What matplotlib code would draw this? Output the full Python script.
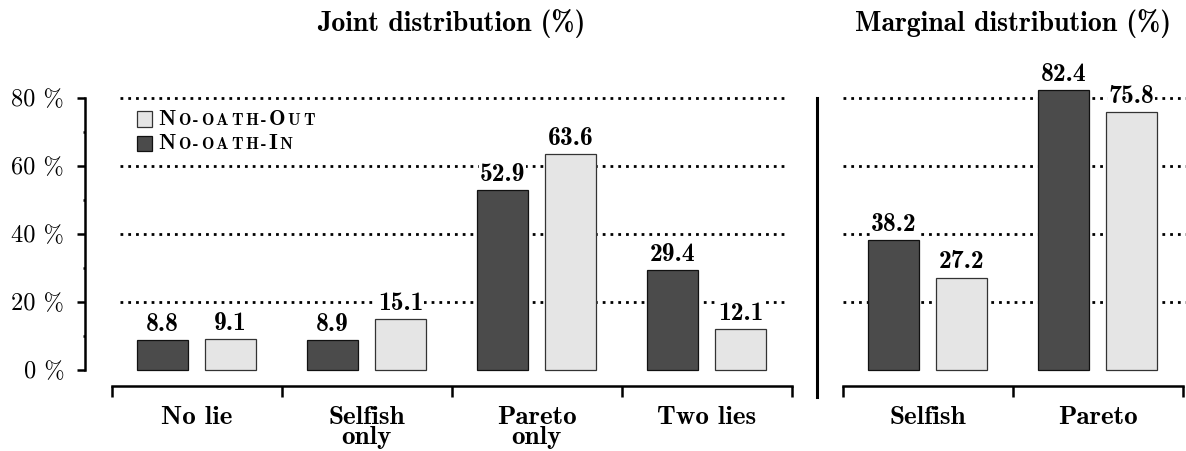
import numpy as np
import matplotlib
matplotlib.use('Agg')
import matplotlib.pyplot as plt
from matplotlib.offsetbox import AnchoredOffsetbox, HPacker, VPacker, TextArea, DrawingArea
from matplotlib.patches import Rectangle

# data
joint_cats = ['No lie', 'Selfish\nonly', 'Pareto\nonly', 'Two lies']
joint_in = [8.8, 8.9, 52.9, 29.4]
joint_out = [9.1, 15.1, 63.6, 12.1]
marg_cats = ['Selfish', 'Pareto']
marg_in = [38.2, 82.4]
marg_out = [27.2, 75.8]
yticks = [0, 20, 40, 60, 80]
ytick_labels = ['0 %', '20 %', '40 %', '60 %', '80 %']

DARK = '#4b4b4b'
LIGHT = '#e5e5e5'
BOLD = 'cmb10'
ROMAN = 'cmr10'
LW = 1.8

fig = plt.figure(figsize=(11.86, 4.51), dpi=100)


def px_axes(left, right, top=70.8, bottom=386):
    return fig.add_axes([left / 1186, (451 - bottom) / 451,
                         (right - left) / 1186, (bottom - top) / 451])


ax1 = px_axes(85, 791.5)
ax2 = px_axes(817, 1186)


def draw_panel(ax, cats, v_in, v_out, xlim, grid_x):
    xs = np.arange(len(cats))
    ax.hlines(yticks[1:], grid_x[0], grid_x[1], colors='black',
              linestyles=(0, (1, 1.8)), lw=2.0, zorder=0)
    for off, vals, fc, ec in [(-0.2, v_in, DARK, '#111111'), (0.2, v_out, LIGHT, '#333333')]:
        bars = ax.bar(xs + off, vals, 0.3, color=fc, edgecolor=ec, lw=0.9, zorder=2)
        for b, v in zip(bars, vals):
            ax.annotate(f'{v:.1f}', (b.get_x() + b.get_width() / 2, v),
                        xytext=(0, 3), textcoords='offset points',
                        ha='center', va='bottom', family=BOLD, size=18.5, zorder=3,
                        bbox=dict(fc='white', ec='none', pad=0.5))
    ax.set_xlim(*xlim)
    ax.set_ylim(-4.7, 88)
    ax.set_xticks(xs, cats, fontfamily=BOLD, fontsize=19.5, linespacing=0.82)
    ax.set_xticks(np.arange(len(cats) + 1) - 0.5, minor=True)
    ax.tick_params(axis='x', which='major', length=0, pad=14.5)
    ax.tick_params(axis='x', which='minor', length=8, width=LW, direction='out')
    ax.spines['bottom'].set_bounds(-0.5, len(cats) - 0.5)
    ax.spines['bottom'].set_linewidth(LW)
    ax.spines['left'].set_linewidth(LW)
    ax.spines['top'].set_visible(False)
    ax.spines['right'].set_visible(False)
    ax.patch.set_visible(False)


draw_panel(ax1, joint_cats, joint_in, joint_out, (-0.656, 3.5), (-0.45, 3.47))
draw_panel(ax2, marg_cats, marg_in, marg_out, (-0.65, 1.52), (-0.497, 1.52))

ax1.set_yticks(yticks, ytick_labels, fontfamily=ROMAN, fontsize=17.5)
ax1.set_yticks([10, 30, 50, 70], minor=True)
ax1.tick_params(axis='y', which='major', length=6, width=LW, pad=9)
ax1.tick_params(axis='y', which='minor', length=1.5, width=LW)
ax1.spines['left'].set_bounds(0, 80)

ax2.set_yticks([])
ax2.spines['left'].set_bounds(-7.94, 80)
ax2.spines['left'].set_linewidth(2.2)

ax1.text(1.5, 99.8, 'Joint distribution (%)', ha='center', va='baseline',
         family=BOLD, size=20)
ax2.text(0.5, 99.8, 'Marginal distribution (%)', ha='center', va='baseline',
         family=BOLD, size=20)


# legend with small caps labels
def legend_row(color, ec, parts):
    da = DrawingArea(11, 11, 0, 0)
    da.add_artist(Rectangle((0, 0), 11, 11, fc=color, ec=ec, lw=0.9))
    texts = []
    for t, big in parts:
        for ch in t:
            texts.append(TextArea(ch, textprops=dict(family=BOLD, size=16 if big else 12)))
    label = HPacker(children=texts, sep=1.8, pad=0, align='baseline')
    return HPacker(children=[da, label], sep=4, pad=0, align='center')


row_out = legend_row(LIGHT, '#333333', [('N', 1), ('O-OATH-', 0), ('O', 1), ('UT', 0)])
row_in = legend_row(DARK, '#111111', [('N', 1), ('O-OATH-', 0), ('I', 1), ('N', 0)])
leg = AnchoredOffsetbox(loc='upper left', child=VPacker(children=[row_out, row_in], sep=4, pad=0, align='left'),
                        bbox_to_anchor=(-0.35, 76.6), bbox_transform=ax1.transData,
                        frameon=False, pad=0, borderpad=0)
ax1.add_artist(leg)

fig.savefig('out.png', dpi=100)
